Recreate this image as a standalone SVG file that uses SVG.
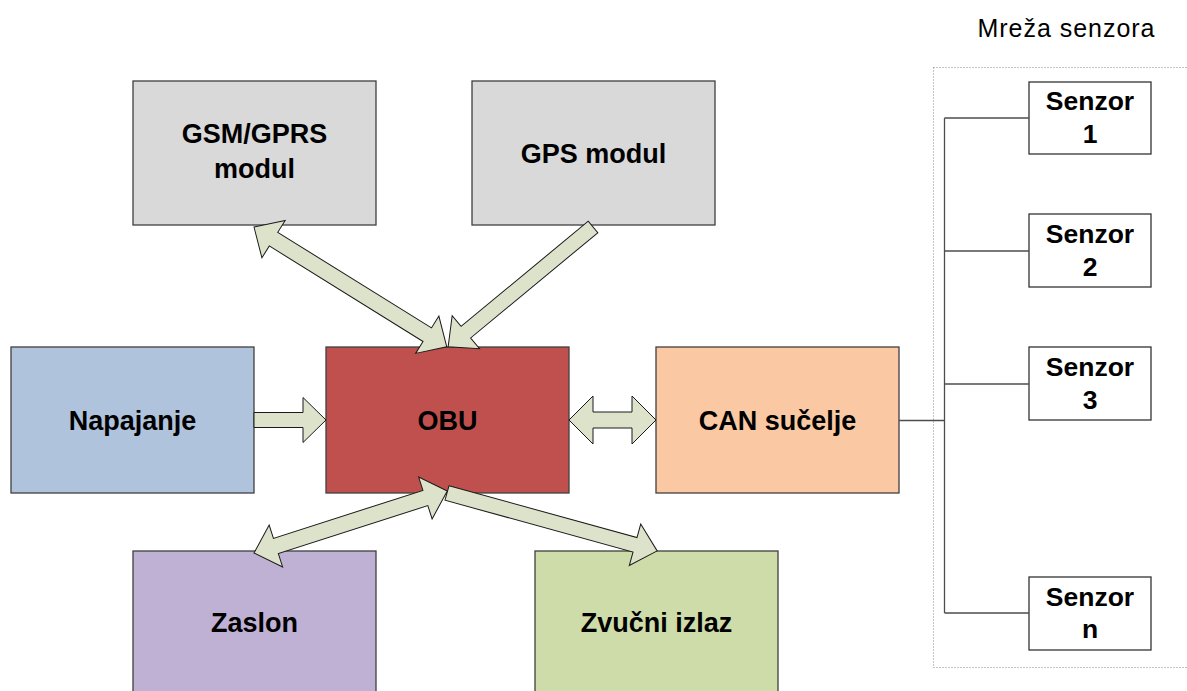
<svg xmlns="http://www.w3.org/2000/svg" width="1187" height="691" viewBox="0 0 1187 691">
<style>
.box{stroke:#3f3f3f;stroke-width:1.3}
.lbl{font-family:"Liberation Sans",Arial,sans-serif;font-weight:bold;font-size:27px;fill:#000;text-anchor:middle}
.sl{font-family:"Liberation Sans",Arial,sans-serif;font-weight:bold;font-size:26.5px;fill:#000;text-anchor:middle}
.arr{fill:#dde3cb;stroke:#1a1a1a;stroke-width:1;stroke-linejoin:miter}
.wire{fill:none;stroke:#4d4d4d;stroke-width:1.3}
.sbox{fill:#fff;stroke:#333;stroke-width:1.3}
</style>
<rect width="1187" height="691" fill="#fff"/>
<text x="1066" y="37" font-family="'Liberation Sans',Arial,sans-serif" font-size="25" text-anchor="middle" textLength="177" lengthAdjust="spacing">Mreža senzora</text>
<rect x="933.5" y="67.5" width="260" height="600" fill="none" stroke="#8a8a8a" stroke-width="1" stroke-dasharray="1,2"/>

<g id="gsm"><rect class="box" x="133" y="81" width="243" height="144" fill="#d9d9d9"/>
<text class="lbl" x="254.5" y="143">GSM/GPRS</text><text class="lbl" x="254.5" y="178">modul</text></g>
<g id="gps"><rect class="box" x="472" y="81" width="243" height="144" fill="#d9d9d9"/>
<text class="lbl" x="593.5" y="163">GPS modul</text></g>
<g id="napajanje"><rect class="box" x="11" y="347" width="243" height="146" fill="#b0c3dc"/>
<text class="lbl" x="132.5" y="429.5">Napajanje</text></g>
<g id="obu"><rect class="box" x="326" y="347" width="243" height="146" fill="#c0504d"/>
<text class="lbl" x="447.5" y="429.5">OBU</text></g>
<g id="can"><rect class="box" x="656" y="347" width="243" height="146" fill="#fac9a3"/>
<text class="lbl" x="777.5" y="429.5">CAN sučelje</text></g>
<g id="zaslon"><rect class="box" x="133" y="551" width="243" height="160" fill="#bfb1d3"/>
<text class="lbl" x="254.5" y="632">Zaslon</text></g>
<g id="zvucni"><rect class="box" x="535" y="551" width="243" height="160" fill="#cedca9"/>
<text class="lbl" x="656.5" y="632">Zvučni izlaz</text></g>

<g id="senzor1"><rect class="sbox" x="1029" y="82" width="122" height="72"/>
<text class="sl" x="1090" y="110">Senzor</text><text class="sl" x="1090" y="143">1</text></g>
<g id="senzor2"><rect class="sbox" x="1029" y="214" width="122" height="73"/>
<text class="sl" x="1090" y="243">Senzor</text><text class="sl" x="1090" y="276">2</text></g>
<g id="senzor3"><rect class="sbox" x="1029" y="347" width="122" height="73"/>
<text class="sl" x="1090" y="376">Senzor</text><text class="sl" x="1090" y="409">3</text></g>
<g id="senzorn"><rect class="sbox" x="1029" y="577" width="122" height="73"/>
<text class="sl" x="1090" y="606">Senzor</text><text class="sl" x="1090" y="638">n</text></g>

<g id="connectors">
<path class="wire" d="M899,420.5 H944.5 M944.5,118 V613 M944.5,251 V420.5 M944.5,118 H1029 M944.5,251 H1029 M944.5,384 H1029 M944.5,613 H1029"/>
<path class="arr" d="M254,412.5 H303 V397.5 L326,420 L303,442.5 V427.5 H254 Z"/>
<path class="arr" d="M569,420 L593,396 V412 H632 V396 L656,420 L632,444 V428 H593 V444 Z"/>
<path class="arr" transform="translate(254,227) rotate(31.87)" d="M0,0 L23,-22 L23,-8 L204,-8 L204,-22 L227,0 L204,22 L204,8 L23,8 L23,22 Z"/>
<path class="arr" transform="translate(593,227) rotate(140.4)" d="M0,-7.5 L165,-7.5 L165,-21.5 L188,0 L165,21.5 L165,7.5 L0,7.5 Z"/>
<path class="arr" transform="translate(254,553) rotate(-17.8)" d="M0,0 L23,-22 L23,-8 L180,-8 L180,-22 L203,0 L180,22 L180,8 L23,8 L23,22 Z"/>
<path class="arr" transform="translate(447,493) rotate(15.4)" d="M0,-7.5 L195,-7.5 L195,-21.5 L218,0 L195,21.5 L195,7.5 L0,7.5 Z"/>
</g>
</svg>
